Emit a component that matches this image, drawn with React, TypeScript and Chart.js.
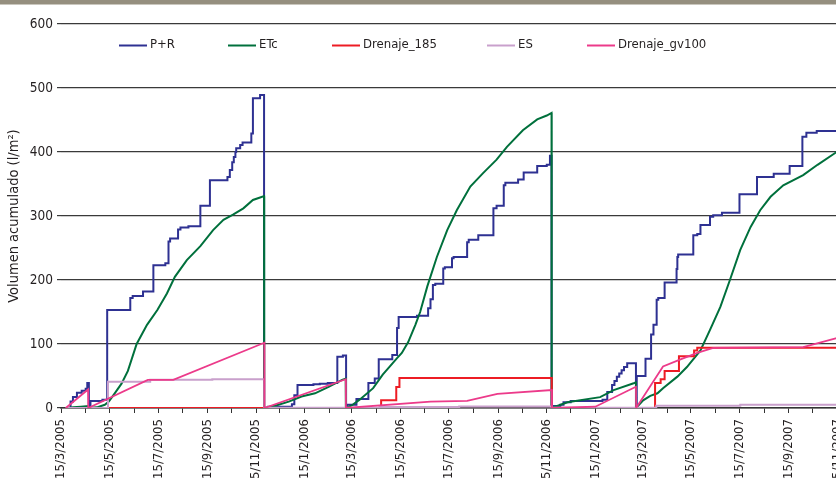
import React, { useEffect, useRef } from "react";
import { Chart, registerables } from "chart.js";

Chart.register(...registerables);

const FONT = "'Liberation Sans Narrow', 'DejaVu Sans Condensed', 'DejaVu Sans', sans-serif";
const TEXT = "#231f20";

// ---- axis / labels ----
const yAxisTitle = "Volumen acumulado (l/m²)";
const yTicks = [0, 100, 200, 300, 400, 500, 600];
const xTickLabels = [
  "15/3/2005", "15/5/2005", "15/7/2005", "15/9/2005", "15/11/2005",
  "15/1/2006", "15/3/2006", "15/5/2006", "15/7/2006", "15/9/2006", "15/11/2006",
  "15/1/2007", "15/3/2007", "15/5/2007", "15/7/2007", "15/9/2007", "15/11/2007",
];
const xStartDate = "15/3/2005";
const xEndDate = "15/1/2008";

const seriesLabels = ["P+R", "ETc", "Drenaje_185", "ES", "Drenaje_gv100"];
const seriesColors = ["#2e3192", "#00703c", "#ed1c24", "#c9a0cc", "#ec3a8a"];

// ---- data: [days since 15/3/2005, l/m²] ----
const prPoints: number[][] = [
  [7, 0], [12, 10], [15, 17], [20, 24], [26, 27], [31, 30], [33, 39], [35, 0],
  [37, 11], [52, 13], [58, 153], [87, 172], [90, 175], [103, 182], [116, 223], [131, 226],
  [135, 260], [137, 265], [147, 279], [150, 282], [160, 284], [175, 316], [187, 356], [209, 361],
  [212, 372], [215, 384], [217, 392], [219, 400], [220, 406], [225, 411], [228, 415], [239, 429],
  [241, 484], [250, 489], [255, 0],
  [260, 2], [290, 6], [293, 20], [297, 36], [317, 37], [325, 38], [335, 39], [347, 80], [354, 82], [358, 0],
  [359, 5], [371, 14], [386, 39], [394, 46], [399, 76], [416, 83], [422, 125], [424, 142], [447, 144],
  [461, 156], [464, 170], [467, 192], [470, 194], [480, 218], [482, 220], [491, 234], [493, 236],
  [510, 259], [512, 263], [524, 270], [543, 312], [547, 316], [556, 348], [558, 352], [574, 357],
  [581, 368], [598, 378], [610, 380], [614, 394], [616, 0],
  [619, 3], [627, 5], [631, 9], [640, 11], [680, 13], [686, 25], [692, 36], [695, 42], [698, 49],
  [701, 54], [704, 59], [707, 64], [711, 70], [722, 0],
  [723, 50], [734, 77], [741, 115], [744, 130], [748, 169], [750, 172], [758, 196], [773, 217],
  [774, 236], [775, 240], [794, 270], [799, 272], [803, 286], [815, 299], [819, 301], [830, 305],
  [852, 334], [874, 361], [895, 366], [915, 378], [931, 424], [936, 430], [949, 433], [985, 433],
];

const etcPoints: number[][] = [
  [7, 0], [15, 1], [25, 2], [34, 3], [34.5, 0],
  [45, 1], [55, 5], [60, 10], [67, 22], [76, 38], [84, 58], [95, 100], [108, 130], [121, 153],
  [133, 179], [143, 205], [158, 231], [175, 253], [191, 278], [204, 294], [216, 302], [229, 312],
  [241, 325], [250, 329], [255, 331], [255.2, 0],
  [270, 4], [286, 10], [302, 18], [319, 23], [336, 33], [353, 44], [357.5, 46], [357.7, 0],
  [365, 4], [375, 13], [392, 31], [404, 52], [413, 65], [422, 78], [428, 86], [436, 103], [445, 130],
  [451, 150], [460, 190], [472, 236], [485, 278], [497, 309], [514, 346], [530, 367], [547, 388],
  [560, 408], [580, 434], [598, 451], [610, 457], [616, 461], [616.2, 0],
  [636, 9], [677, 17], [694, 28], [720, 39], [722, 40], [722.2, 0],
  [731, 12], [740, 19], [749, 23], [756, 31], [774, 49], [786, 64], [803, 90], [815, 122], [828, 158],
  [840, 200], [853, 247], [866, 283], [878, 309], [891, 330], [907, 348], [932, 364], [950, 380],
  [974, 400], [985, 407],
];

const dren185Points: number[][] = [
  [59, 0], [402, 12], [421, 33], [425, 47], [616.3, 0], [746, 39], [753, 45], [758, 58],
  [776, 81], [795, 90], [799, 94], [985, 94],
];

const esPoints: number[][] = [
  [6, 0], [59, 41], [112, 44], [190, 45], [255.3, 0.5], [400, 1.5], [500, 2.5], [616.3, 0.5],
  [747.5, 3.5], [853, 5], [985, 5],
];

const drenGvPoints: number[][] = [
  [6, 0], [34, 29], [34.2, 0], [109, 44], [141, 44], [255.3, 102], [255.5, 0], [357.6, 45], [357.8, 0],
  [464, 10], [510, 11], [548, 22], [616.3, 28], [616.5, 0], [671, 2], [720, 32], [722, 33], [722.2, 0],
  [756, 65], [778, 76], [799, 86], [819, 94], [932, 95], [974, 109], [985, 112],
];

// ---- helpers ----
const toDay = (s: string) => {
  const [d, m, y] = s.split("/").map(Number);
  const [d0, m0, y0] = xStartDate.split("/").map(Number);
  return Math.round((Date.UTC(y, m - 1, d) - Date.UTC(y0, m0 - 1, d0)) / 86400000);
};
const toPts = (arr: number[][]) => arr.map(([x, y]) => ({ x, y }));

const monthTicks: { value: number; label: string }[] = [];
for (let y = 2005; y <= 2007; y++) {
  for (let m = 1; m <= 12; m++) {
    if (y === 2005 && m < 3) continue;
    const s = `15/${m}/${y}`;
    monthTicks.push({ value: toDay(s), label: xTickLabels.includes(s) ? s : "" });
  }
}

const topBandPlugin = {
  id: "topBand",
  beforeDraw(chart: any) {
    const ctx = chart.ctx;
    ctx.save();
    ctx.fillStyle = "#958f7f";
    ctx.fillRect(0, 0, chart.width, 4.5);
    ctx.restore();
  },
};

const legendStarts = [119, 228, 332, 487, 587];
const seriesLegendPlugin = {
  id: "seriesLegend",
  afterDraw(chart: any) {
    const ctx = chart.ctx;
    ctx.save();
    ctx.font = `13px ${FONT}`;
    ctx.textBaseline = "middle";
    ctx.textAlign = "left";
    chart.data.datasets.forEach((ds: any, i: number) => {
      const x = legendStarts[i];
      ctx.strokeStyle = ds.borderColor;
      ctx.lineWidth = 2;
      ctx.beginPath();
      ctx.moveTo(x, 45.5);
      ctx.lineTo(x + 28, 45.5);
      ctx.stroke();
      ctx.fillStyle = TEXT;
      ctx.fillText(ds.label, x + 31, 44.5);
    });
    ctx.restore();
  },
};

export default function App() {
  const ref = useRef<HTMLCanvasElement>(null);
  useEffect(() => {
    const allPoints = [prPoints, etcPoints, dren185Points, esPoints, drenGvPoints];
    const stepped = ["before", false, "before", "before", false];
    const widths = [2, 2, 2, 2, 1.8];
    const orders = [5, 4, 3, 2, 1];
    const chart = new Chart(ref.current!, {
      type: "line",
      data: {
        datasets: seriesLabels.map((label, i) => ({
          label,
          data: toPts(allPoints[i]),
          borderColor: seriesColors[i],
          backgroundColor: seriesColors[i],
          borderWidth: widths[i],
          stepped: stepped[i] as any,
          pointRadius: 0,
          fill: false,
          tension: 0,
          order: orders[i],
        })),
      },
      options: {
        responsive: false,
        animation: false,
        events: [],
        layout: { padding: { top: 24, right: 14, left: 0, bottom: 0 } },
        plugins: { legend: { display: false }, tooltip: { enabled: false } },
        scales: {
          x: {
            type: "linear",
            min: toDay(xStartDate),
            max: toDay(xEndDate),
            afterBuildTicks: (scale: any) => {
              scale.ticks = monthTicks.map((t) => ({ value: t.value }));
            },
            afterFit: (scale: any) => {
              scale.height = 72;
            },
            ticks: {
              autoSkip: false,
              maxRotation: 90,
              minRotation: 90,
              padding: 6,
              color: TEXT,
              font: { family: FONT, size: 13 },
              callback: (_v: any, i: number) => (monthTicks[i] ? monthTicks[i].label : ""),
            },
            grid: { drawOnChartArea: false, drawTicks: true, tickLength: 5, color: "#333", lineWidth: 1 },
            border: { display: true, color: "#333", width: 1.5 },
          },
          y: {
            min: 0,
            max: 600,
            afterBuildTicks: (scale: any) => {
              scale.ticks = yTicks.map((v) => ({ value: v }));
            },
            afterFit: (scale: any) => {
              scale.width = 61;
            },
            ticks: { padding: 4, color: TEXT, font: { family: FONT, size: 13.5 } },
            grid: { color: "#3a3a3a", lineWidth: 1.2, tickLength: 4, drawTicks: true },
            border: { display: false },
            title: {
              display: true,
              text: yAxisTitle,
              color: TEXT,
              font: { family: FONT, size: 14.5 },
              padding: { top: 6, bottom: 0 },
            },
          },
        },
      },
      plugins: [topBandPlugin, seriesLegendPlugin],
    } as any);
    return () => chart.destroy();
  }, []);
  return (
    <div style={{ position: "absolute", left: 0, top: 0, width: 836, height: 480, overflow: "hidden", background: "#fff" }}>
      <canvas ref={ref} width={900} height={480} style={{ display: "block", width: 900, height: 480 }} />
    </div>
  );
}
